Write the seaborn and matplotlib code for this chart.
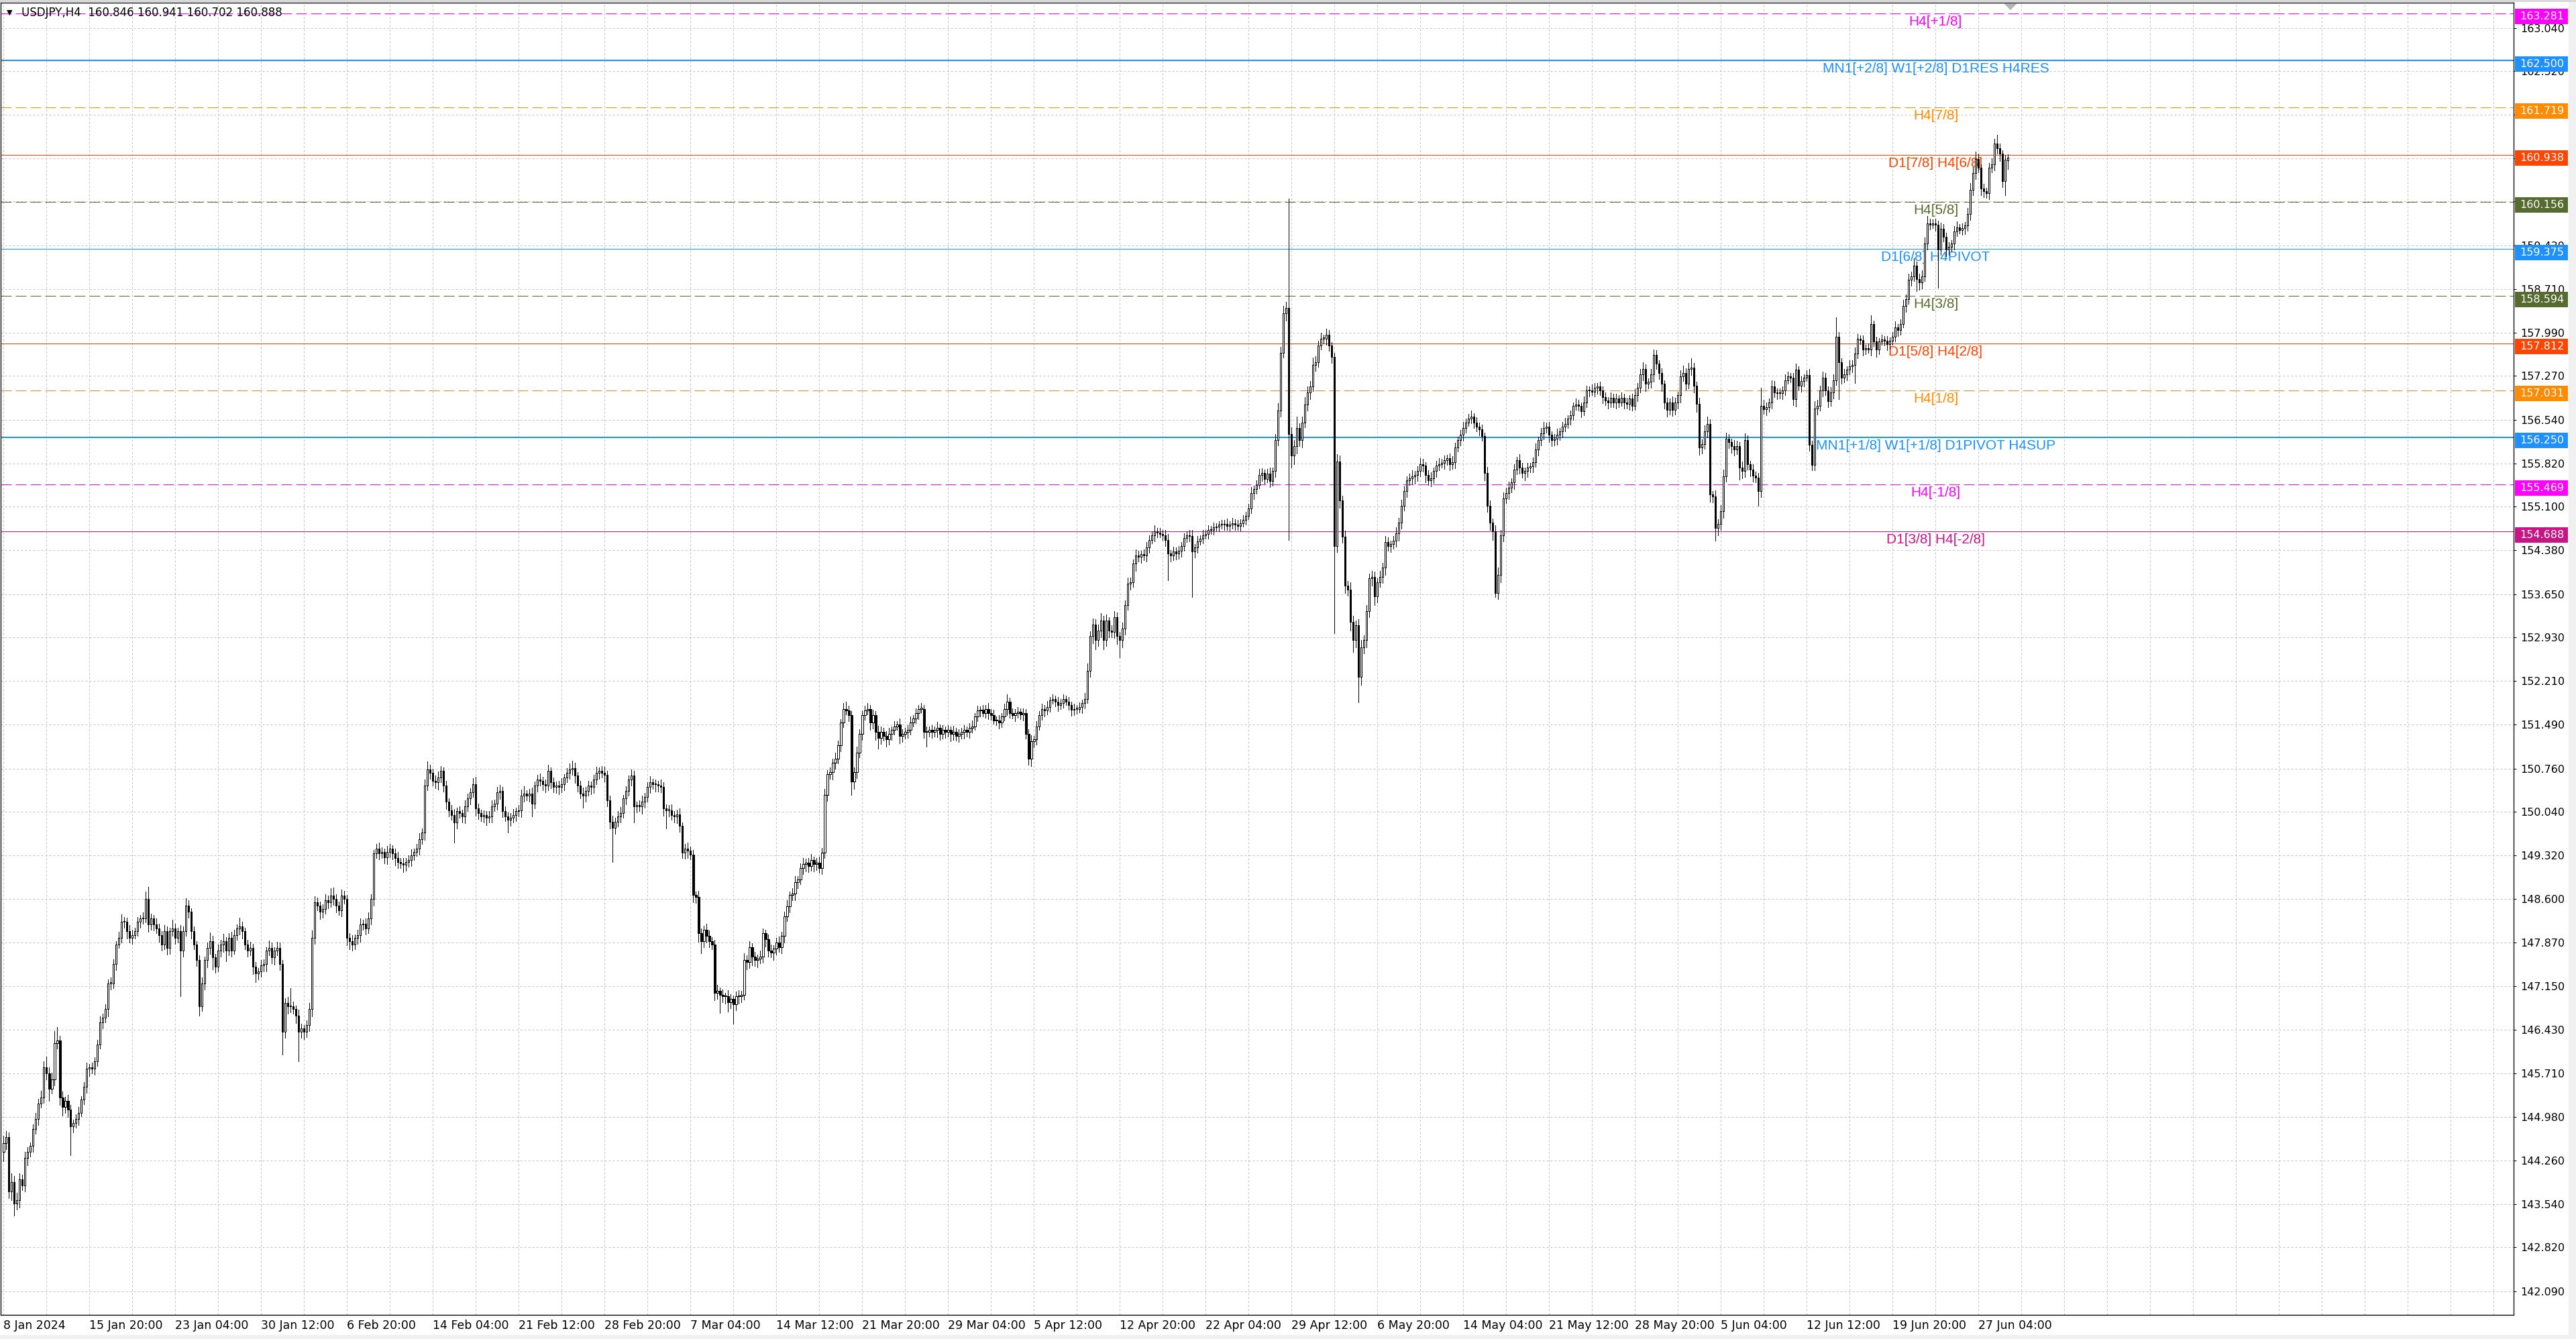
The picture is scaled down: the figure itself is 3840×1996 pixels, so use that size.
import numpy as np
import pandas as pd
import matplotlib
matplotlib.use("Agg")
import matplotlib.pyplot as plt
import matplotlib.transforms as mtransforms
from matplotlib.patches import Rectangle, Polygon
import seaborn as sns

# ---------------- data ----------------
SYMBOL = "USDJPY,H4"
LAST_OHLC = [160.846, 160.941, 160.702, 160.888]
FIRST_OPEN = 144.40

# H4 closes, one per bar, left to right
CLOSES = [
    144.55, 144.65, 143.75, 143.90, 143.55, 143.60, 143.95, 143.85, 144.30, 144.40,
    144.50, 144.78, 144.95, 145.20, 145.30, 145.80, 145.70, 145.45, 145.60, 146.20,
    146.25, 145.30, 145.15, 145.25, 145.10, 144.83, 144.88, 144.95, 145.05, 145.27,
    145.48, 145.78, 145.80, 145.78, 145.91, 146.18, 146.55, 146.63, 146.77, 147.20,
    147.20, 147.52, 147.84, 147.95, 148.22, 148.22, 148.06, 147.95, 148.00, 148.06,
    148.22, 148.27, 148.27, 148.60, 148.17, 148.27, 148.17, 148.11, 148.00, 147.84,
    148.06, 147.79, 148.06, 148.11, 147.95, 148.06, 147.74, 148.06, 148.49, 148.38,
    148.06, 147.84, 147.58, 146.82, 147.20, 147.58, 147.79, 147.90, 147.63, 147.47,
    147.74, 147.84, 147.90, 147.74, 147.95, 147.74, 148.00, 148.11, 148.14, 148.06,
    147.84, 147.74, 147.79, 147.47, 147.36, 147.39, 147.49, 147.52, 147.74, 147.79,
    147.63, 147.74, 147.79, 147.52, 146.39, 146.87, 146.82, 146.82, 146.77, 146.66,
    146.39, 146.45, 146.39, 146.50, 146.77, 147.95, 148.54, 148.49, 148.38, 148.43,
    148.57, 148.54, 148.65, 148.60, 148.49, 148.41, 148.65, 148.60, 147.95, 147.90,
    147.84, 147.95, 148.00, 148.17, 148.19, 148.11, 148.27, 148.60, 149.35, 149.43,
    149.35, 149.37, 149.29, 149.37, 149.43, 149.35, 149.27, 149.21, 149.19, 149.16,
    149.21, 149.24, 149.32, 149.37, 149.43, 149.59, 149.70, 150.48, 150.74, 150.69,
    150.56, 150.53, 150.61, 150.72, 150.48, 150.21, 150.07, 149.99, 149.86, 150.05,
    150.02, 149.97, 150.13, 150.26, 150.37, 150.50, 150.10, 150.02, 149.97, 149.99,
    149.94, 149.97, 150.13, 150.18, 150.37, 150.39, 150.05, 149.97, 149.91, 149.94,
    149.99, 150.05, 150.07, 150.31, 150.34, 150.31, 150.34, 150.18, 150.48, 150.58,
    150.56, 150.50, 150.48, 150.72, 150.53, 150.45, 150.48, 150.45, 150.50, 150.61,
    150.69, 150.74, 150.77, 150.64, 150.48, 150.34, 150.31, 150.39, 150.48, 150.45,
    150.58, 150.69, 150.72, 150.69, 150.66, 150.23, 149.88, 149.78, 149.88, 149.97,
    150.02, 150.26, 150.39, 150.58, 150.64, 150.13, 150.15, 150.13, 150.21, 150.29,
    150.45, 150.53, 150.50, 150.50, 150.48, 150.45, 150.10, 150.07, 150.07, 149.99,
    149.97, 150.00, 149.81, 149.36, 149.43, 149.40, 149.33, 148.66, 148.63, 148.03,
    147.90, 148.09, 147.99, 147.90, 147.84, 147.04, 147.07, 147.01, 146.98, 146.98,
    146.88, 146.94, 146.85, 146.98, 146.98, 147.01, 147.58, 147.55, 147.80, 147.64,
    147.58, 147.61, 147.64, 148.03, 147.93, 147.74, 147.71, 147.77, 147.87, 147.80,
    147.99, 148.31, 148.47, 148.66, 148.69, 148.88, 148.92, 149.11, 149.17, 149.20,
    149.14, 149.24, 149.17, 149.20, 149.11, 149.36, 150.32, 150.67, 150.70, 150.86,
    150.92, 151.14, 151.52, 151.75, 151.72, 151.65, 150.54, 150.70, 151.02, 151.33,
    151.65, 151.72, 151.75, 151.52, 151.65, 151.37, 151.27, 151.37, 151.30, 151.24,
    151.33, 151.40, 151.46, 151.49, 151.30, 151.33, 151.37, 151.40, 151.52, 151.59,
    151.68, 151.75, 151.75, 151.37, 151.37, 151.40, 151.37, 151.40, 151.43, 151.33,
    151.40, 151.37, 151.40, 151.33, 151.37, 151.30, 151.33, 151.37, 151.40, 151.37,
    151.43, 151.46, 151.62, 151.72, 151.73, 151.68, 151.75, 151.68, 151.65, 151.56,
    151.56, 151.52, 151.62, 151.75, 151.87, 151.68, 151.65, 151.68, 151.70, 151.66,
    151.68, 151.33, 150.92, 151.21, 151.24, 151.46, 151.65, 151.75, 151.72, 151.78,
    151.89, 151.91, 151.87, 151.81, 151.85, 151.91, 151.87, 151.81, 151.73, 151.75,
    151.75, 151.78, 151.84, 151.91, 152.38, 152.96, 153.15, 152.89, 153.05, 153.21,
    152.89, 153.21, 153.05, 153.02, 153.27, 152.96, 152.89, 153.08, 153.47, 153.82,
    153.85, 154.16, 154.29, 154.27, 154.31, 154.29, 154.42, 154.55, 154.63, 154.69,
    154.67, 154.65, 154.63, 154.55, 154.32, 154.29, 154.36, 154.32, 154.37, 154.45,
    154.58, 154.63, 154.61, 154.36, 154.42, 154.53, 154.57, 154.63, 154.65, 154.71,
    154.72, 154.76, 154.77, 154.80, 154.80, 154.82, 154.78, 154.80, 154.83, 154.80,
    154.78, 154.83, 154.88, 154.95, 155.07, 155.33, 155.39, 155.46, 155.63, 155.66,
    155.56, 155.65, 155.53, 155.69, 156.20, 156.70, 157.65, 158.31, 158.40, 156.30,
    155.95, 156.10, 156.40, 156.20, 156.50, 156.80, 157.00, 157.10, 157.45, 157.50,
    157.77, 157.89, 157.89, 157.95, 157.77, 157.59, 154.45, 155.85, 155.20, 154.60,
    153.79, 153.73, 153.19, 152.89, 153.13, 152.28, 152.77, 152.89, 153.37, 153.91,
    153.94, 153.61, 153.85, 153.94, 154.09, 154.51, 154.45, 154.48, 154.54, 154.66,
    154.84, 155.12, 155.36, 155.54, 155.57, 155.60, 155.63, 155.69, 155.81, 155.78,
    155.63, 155.54, 155.57, 155.69, 155.78, 155.81, 155.83, 155.87, 155.90, 155.81,
    155.84, 156.08, 156.20, 156.29, 156.41, 156.50, 156.56, 156.59, 156.50, 156.43,
    156.38, 156.27, 155.66, 155.12, 154.84, 154.69, 153.67, 153.97, 154.63, 155.24,
    155.33, 155.42, 155.51, 155.72, 155.87, 155.75, 155.66, 155.69, 155.75, 155.77,
    155.84, 156.05, 156.20, 156.32, 156.41, 156.43, 156.29, 156.20, 156.23, 156.29,
    156.35, 156.43, 156.47, 156.56, 156.62, 156.77, 156.79, 156.77, 156.68, 156.83,
    157.03, 157.03, 157.01, 157.07, 157.09, 157.03, 156.92, 156.86, 156.83, 156.91,
    156.83, 156.89, 156.83, 156.91, 156.83, 156.81, 156.89, 156.77, 156.95, 157.07,
    157.29, 157.38, 157.14, 157.17, 157.29, 157.62, 157.47, 157.32, 157.14, 156.83,
    156.71, 156.83, 156.71, 156.83, 156.95, 157.26, 157.32, 157.14, 157.38, 157.41,
    157.11, 156.81, 156.08, 156.14, 156.35, 156.47, 155.30, 155.27, 154.75, 154.81,
    155.03, 155.60, 156.23, 156.17, 156.11, 156.05, 156.11, 155.75, 155.69, 156.20,
    155.80, 155.72, 155.62, 155.58, 155.36, 156.77, 156.72, 156.75, 156.83, 157.10,
    157.00, 156.98, 156.98, 157.03, 157.20, 157.26, 157.24, 156.88, 157.37, 157.11,
    157.18, 157.24, 157.28, 156.13, 155.79, 156.73, 156.77, 157.03, 157.24, 157.03,
    156.85, 157.00, 157.20, 157.92, 157.50, 157.24, 157.30, 157.37, 157.43, 157.45,
    157.64, 157.88, 157.86, 157.71, 157.73, 157.71, 158.13, 157.84, 157.71, 157.84,
    157.87, 157.85, 157.80, 157.85, 157.92, 158.07, 158.03, 158.13, 158.43, 158.54,
    158.86, 158.92, 159.10, 158.88, 158.82, 158.92, 159.46, 159.80, 159.78, 159.80,
    159.78, 159.37, 159.71, 159.58, 159.37, 159.41, 159.46, 159.67, 159.73, 159.69,
    159.72, 159.76, 159.95, 160.35, 160.63, 160.87, 160.72, 160.38, 160.33, 160.30,
    160.72, 160.78, 161.12, 161.04, 160.95, 160.50, 160.85, 160.888,
]

# wick lengths in hundredths of a yen (above body / below body)
UP_WICK = [
    12, 10, 8, 15, 10, 12, 10, 8, 10, 8, 6, 8, 10, 8, 12, 10, 18, 10, 12, 20,
    22, 8, 10, 6, 10, 8, 6, 8, 10, 6, 8, 10, 6, 8, 6, 8, 10, 6, 8, 6,
    10, 8, 6, 10, 12, 8, 6, 10, 8, 6, 8, 6, 10, 12, 20, 8, 6, 10, 8, 6,
    10, 8, 6, 14, 8, 6, 10, 8, 12, 8, 6, 8, 6, 8, 10, 6, 8, 14, 8, 6,
    10, 8, 12, 6, 8, 10, 8, 6, 14, 8, 6, 8, 10, 6, 8, 6, 10, 8, 6, 12,
    8, 6, 10, 8, 6, 8, 10, 30, 8, 6, 10, 8, 6, 8, 10, 12, 10, 8, 6, 8,
    10, 8, 12, 14, 8, 6, 10, 8, 6, 8, 10, 6, 8, 10, 6, 8, 10, 8, 6, 8,
    10, 8, 6, 10, 8, 6, 8, 10, 6, 8, 6, 8, 10, 6, 8, 10, 6, 10, 14, 8,
    6, 8, 10, 8, 6, 8, 6, 8, 10, 6, 8, 6, 10, 8, 6, 10, 12, 8, 6, 8,
    6, 8, 10, 6, 8, 10, 6, 8, 6, 8, 10, 6, 8, 10, 12, 6, 8, 10, 6, 8,
    10, 6, 8, 10, 6, 8, 6, 8, 10, 6, 8, 10, 12, 8, 6, 8, 10, 6, 8, 6,
    8, 10, 6, 8, 10, 6, 8, 10, 6, 8, 10, 6, 8, 6, 10, 8, 6, 8, 10, 6,
    8, 10, 6, 8, 6, 10, 8, 6, 8, 10, 6, 8, 10, 6, 8, 10, 6, 8, 6, 10,
    8, 6, 10, 8, 6, 8, 10, 6, 8, 6, 10, 8, 6, 8, 10, 6, 12, 8, 10, 6,
    8, 6, 10, 8, 6, 8, 10, 6, 8, 10, 6, 8, 10, 6, 8, 10, 6, 8, 10, 6,
    8, 10, 6, 8, 10, 8, 10, 6, 8, 6, 10, 8, 6, 10, 12, 8, 6, 8, 10, 8,
    6, 8, 10, 6, 8, 6, 10, 8, 6, 8, 10, 6, 8, 6, 10, 8, 6, 8, 10, 6,
    8, 6, 10, 6, 8, 6, 8, 6, 10, 6, 8, 6, 8, 6, 10, 6, 8, 6, 8, 6,
    8, 10, 6, 8, 6, 8, 6, 10, 6, 8, 6, 8, 6, 8, 12, 6, 8, 6, 8, 6,
    8, 6, 8, 10, 6, 8, 6, 8, 6, 10, 6, 8, 6, 8, 6, 8, 6, 8, 6, 8,
    6, 8, 6, 10, 12, 8, 10, 8, 10, 12, 8, 10, 6, 8, 10, 8, 6, 10, 8, 10,
    8, 6, 10, 8, 6, 8, 10, 8, 6, 10, 6, 8, 6, 8, 10, 6, 8, 6, 8, 6,
    8, 6, 8, 10, 6, 8, 6, 8, 6, 8, 6, 8, 6, 6, 8, 6, 8, 6, 8, 6,
    8, 6, 8, 6, 8, 10, 6, 8, 10, 8, 6, 8, 10, 6, 10, 12, 10, 12, 10, 181,
    12, 10, 20, 8, 10, 12, 10, 8, 12, 10, 8, 10, 6, 10, 8, 6, 6, 12, 10, 8,
    10, 8, 12, 10, 8, 10, 12, 8, 10, 8, 10, 8, 6, 10, 8, 10, 8, 6, 8, 10,
    8, 10, 8, 6, 8, 10, 6, 8, 10, 8, 6, 8, 10, 6, 8, 10, 6, 8, 6, 8,
    10, 8, 6, 8, 10, 6, 8, 10, 6, 8, 6, 8, 6, 10, 8, 6, 10, 12, 8, 10,
    8, 10, 6, 8, 6, 10, 8, 6, 8, 6, 8, 10, 6, 8, 10, 6, 8, 6, 8, 10,
    6, 8, 10, 6, 8, 6, 10, 8, 6, 10, 8, 6, 10, 8, 6, 8, 6, 8, 6, 8,
    6, 8, 6, 8, 6, 8, 6, 8, 10, 8, 10, 12, 8, 6, 10, 9, 8, 6, 8, 6,
    8, 6, 10, 8, 6, 10, 12, 8, 10, 15, 8, 6, 10, 8, 10, 12, 8, 6, 10, 8,
    10, 12, 10, 8, 6, 10, 8, 6, 10, 12, 8, 6, 8, 6, 8, 30, 10, 8, 6, 10,
    8, 6, 8, 6, 10, 8, 6, 8, 10, 6, 8, 6, 8, 10, 6, 12, 10, 8, 10, 8,
    6, 8, 10, 32, 8, 6, 8, 6, 10, 8, 10, 8, 6, 8, 6, 8, 14, 6, 8, 6,
    8, 6, 8, 6, 8, 10, 6, 8, 10, 8, 10, 8, 12, 6, 8, 10, 10, 12, 8, 6,
    8, 6, 10, 8, 6, 8, 6, 8, 10, 6, 8, 6, 10, 12, 10, 12, 8, 6, 8, 6,
    8, 10, 8, 15, 8, 6, 8, 5,
]
LOW_WICK = [
    15, 10, 12, 15, 20, 10, 12, 8, 10, 12, 8, 10, 8, 10, 6, 8, 10, 20, 8, 10,
    8, 12, 15, 10, 12, 48, 10, 8, 10, 6, 8, 10, 12, 8, 10, 8, 6, 10, 8, 12,
    10, 8, 10, 6, 8, 10, 12, 8, 10, 6, 8, 10, 8, 6, 12, 8, 10, 8, 12, 10,
    8, 12, 10, 8, 10, 8, 76, 10, 8, 10, 12, 8, 10, 16, 8, 10, 12, 10, 20, 10,
    8, 10, 12, 18, 8, 10, 6, 8, 10, 12, 8, 10, 8, 12, 14, 10, 8, 10, 12, 8,
    10, 12, 8, 10, 37, 10, 12, 10, 8, 12, 48, 10, 12, 8, 10, 12, 10, 8, 12, 10,
    8, 10, 8, 10, 12, 8, 10, 8, 12, 14, 10, 8, 10, 12, 8, 10, 8, 10, 12, 8,
    10, 8, 10, 12, 8, 10, 12, 10, 8, 12, 10, 8, 10, 8, 6, 10, 8, 12, 8, 10,
    8, 10, 12, 8, 10, 12, 10, 8, 33, 10, 8, 10, 12, 8, 10, 8, 12, 10, 8, 10,
    12, 8, 10, 8, 10, 12, 10, 8, 21, 10, 8, 10, 8, 12, 10, 8, 10, 22, 8, 10,
    8, 10, 12, 8, 10, 8, 10, 12, 8, 10, 8, 10, 8, 12, 10, 8, 20, 10, 8, 12,
    10, 8, 10, 8, 12, 10, 12, 57, 10, 8, 10, 8, 10, 8, 10, 27, 10, 8, 12, 10,
    8, 10, 8, 12, 10, 8, 12, 30, 10, 8, 10, 12, 10, 8, 10, 12, 8, 12, 10, 14,
    20, 10, 12, 10, 8, 12, 10, 30, 10, 12, 15, 10, 32, 10, 12, 10, 8, 12, 10, 14,
    10, 12, 8, 10, 12, 10, 8, 12, 10, 8, 10, 12, 8, 10, 8, 12, 10, 8, 10, 12,
    10, 8, 12, 10, 8, 10, 8, 10, 8, 12, 10, 8, 10, 8, 6, 10, 22, 12, 10, 8,
    10, 8, 6, 12, 10, 14, 18, 10, 8, 12, 8, 10, 8, 6, 12, 10, 8, 10, 8, 6,
    8, 10, 6, 10, 25, 8, 10, 8, 12, 10, 8, 10, 8, 12, 10, 8, 10, 8, 12, 8,
    10, 8, 6, 8, 10, 6, 8, 10, 8, 6, 8, 10, 8, 6, 10, 8, 6, 10, 8, 8,
    10, 8, 10, 12, 10, 8, 6, 8, 10, 6, 8, 6, 8, 10, 6, 8, 6, 8, 10, 8,
    8, 6, 10, 8, 6, 10, 12, 15, 10, 12, 15, 10, 12, 8, 10, 14, 29, 12, 10, 8,
    10, 8, 12, 8, 10, 8, 10, 8, 6, 10, 8, 6, 8, 10, 44, 10, 8, 10, 8, 10,
    8, 6, 8, 76, 10, 8, 6, 8, 6, 8, 6, 8, 6, 8, 6, 8, 6, 8, 6, 8,
    6, 8, 6, 8, 6, 8, 10, 8, 6, 10, 8, 6, 10, 8, 10, 8, 10, 8, 12, 175,
    20, 15, 12, 10, 12, 8, 10, 12, 8, 10, 8, 6, 8, 10, 8, 10, 145, 10, 12, 10,
    12, 10, 14, 20, 12, 42, 14, 10, 12, 10, 12, 14, 10, 8, 10, 12, 8, 10, 8, 10,
    12, 10, 8, 10, 8, 10, 12, 10, 8, 10, 12, 8, 10, 8, 10, 8, 6, 10, 8, 10,
    8, 10, 6, 8, 10, 8, 6, 8, 10, 8, 10, 8, 12, 10, 12, 14, 7, 10, 12, 10,
    8, 10, 8, 12, 8, 10, 8, 12, 10, 8, 10, 8, 10, 8, 10, 8, 12, 10, 8, 10,
    8, 10, 8, 6, 10, 8, 6, 8, 10, 6, 8, 10, 6, 8, 10, 8, 10, 8, 10, 8,
    8, 10, 8, 6, 10, 8, 10, 8, 6, 10, 8, 10, 12, 8, 10, 12, 8, 10, 12, 10,
    12, 8, 10, 8, 10, 12, 8, 10, 8, 10, 12, 14, 12, 10, 8, 10, 12, 10, 21, 12,
    10, 12, 8, 10, 12, 10, 8, 20, 12, 10, 8, 12, 10, 8, 24, 10, 8, 10, 8, 10,
    8, 10, 8, 10, 8, 6, 8, 10, 12, 8, 10, 8, 6, 10, 9, 8, 10, 8, 10, 8,
    10, 8, 10, 8, 62, 10, 8, 10, 8, 10, 30, 8, 6, 10, 8, 6, 10, 8, 12, 8,
    6, 8, 10, 8, 6, 8, 10, 8, 6, 10, 8, 10, 8, 21, 12, 10, 8, 10, 8, 6,
    10, 64, 10, 8, 12, 10, 8, 10, 8, 6, 8, 10, 8, 10, 8, 10, 8, 12, 10, 8,
    10, 8, 10, 8, 12, 10, 23, 14,
]

DATE_LABELS = [
    "8 Jan 2024", "15 Jan 20:00", "23 Jan 04:00", "30 Jan 12:00", "6 Feb 20:00",
    "14 Feb 04:00", "21 Feb 12:00", "28 Feb 20:00", "7 Mar 04:00", "14 Mar 12:00",
    "21 Mar 20:00", "29 Mar 04:00", "5 Apr 12:00", "12 Apr 20:00", "22 Apr 04:00",
    "29 Apr 12:00", "6 May 20:00", "14 May 04:00", "21 May 12:00", "28 May 20:00",
    "5 Jun 04:00", "12 Jun 12:00", "19 Jun 20:00", "27 Jun 04:00",
]

PRICE_TICKS = [
    163.040, 162.320, 161.600, 160.880, 160.160, 159.430, 158.710, 157.990,
    157.270, 156.540, 155.820, 155.100, 154.380, 153.650, 152.930, 152.210,
    151.490, 150.760, 150.040, 149.320, 148.600, 147.870, 147.150, 146.430,
    145.710, 144.980, 144.260, 143.540, 142.820, 142.090,
]

LEVELS = [163.281, 162.500, 161.719, 160.938, 160.156, 159.375,
          158.594, 157.812, 157.031, 156.250, 155.469, 154.688]
LEVEL_NAMES = [
    "H4[+1/8]", "MN1[+2/8] W1[+2/8] D1RES H4RES", "H4[7/8]", "D1[7/8] H4[6/8]",
    "H4[5/8]", "D1[6/8] H4PIVOT", "H4[3/8]", "D1[5/8] H4[2/8]", "H4[1/8]",
    "MN1[+1/8] W1[+1/8] D1PIVOT H4SUP", "H4[-1/8]", "D1[3/8] H4[-2/8]",
]

# ---------------- styling ----------------
LEVEL_COLORS = ["#FF00FF", "#1E90FF", "#FF8C00", "#FF4500", "#556B2F", "#1E90FF",
                "#556B2F", "#FF4500", "#FF8C00", "#1E90FF", "#FF00FF", "#C71585"]
LEVEL_DASHED = [True, False, True, False, True, False, True, False, True, False, True, False]
LEVEL_THICK = [False, True, False, False, False, False, False, False, False, True, False, False]

W, H, DPI = 3840, 1996, 100
PX = 72.0 / DPI            # one pixel in points
BARS_PER_LABEL = 32
BARS_PER_GRID = 16
LABEL_BAR = 720            # where the level names are centred
GRID = "#c0c0c0"

sns.set_theme(style="white", rc={
    "axes.edgecolor": "black",
    "axes.facecolor": "white",
    "xtick.color": "black",
    "ytick.color": "black",
    "text.color": "black",
})
plt.rcParams["font.family"] = ["DejaVu Sans"]

assert len(CLOSES) == len(UP_WICK) == len(LOW_WICK), (len(CLOSES), len(UP_WICK), len(LOW_WICK))

df = pd.DataFrame({"close": CLOSES, "up": UP_WICK, "dn": LOW_WICK})
df["open"] = df["close"].shift(1).fillna(FIRST_OPEN)
df["top"] = df[["open", "close"]].max(axis=1)
df["bot"] = df[["open", "close"]].min(axis=1)
df["high"] = df["top"] + df["up"] / 100.0
df["low"] = df["bot"] - df["dn"] / 100.0
last = df.index[-1]
df.loc[last, ["open", "high", "low", "close"]] = LAST_OHLC
df.loc[last, "top"] = max(LAST_OHLC[0], LAST_OHLC[3])
df.loc[last, "bot"] = min(LAST_OHLC[0], LAST_OHLC[3])
df["x"] = np.arange(len(df))
df["rise"] = df["close"] >= df["open"]
df["body"] = (df["top"] - df["bot"]).clip(lower=0.012)

fig = plt.figure(figsize=(W / DPI, H / DPI), dpi=DPI, facecolor="white")
ax_l, ax_r, ax_t, ax_b = 1, 3747, 4, 1960
ax = fig.add_axes([ax_l / W, 1 - ax_b / H, (ax_r - ax_l) / W, (ax_b - ax_t) / H])

# window chrome
fig.patches.append(Rectangle((3829 / W, 0), 11 / W, 1, transform=fig.transFigure,
                             facecolor="#f0f0f0", edgecolor="none", zorder=0))
fig.patches.append(Rectangle((0, 0), 1, 6 / H, transform=fig.transFigure,
                             facecolor="#f0f0f0", edgecolor="none", zorder=0))
fig.patches.append(Rectangle((0, 1 - 3 / H), 1, 3 / H, transform=fig.transFigure,
                             facecolor="#d8d8d8", edgecolor="none", zorder=0))

# level lines
for lvl, col, dashed, thick in zip(LEVELS, LEVEL_COLORS, LEVEL_DASHED, LEVEL_THICK):
    ax.axhline(lvl, color=col, lw=(2.0 if thick else 1.0) * PX,
               ls=(0, (16, 6)) if dashed else "-", zorder=2.2)

# level names
for lvl, name, col in zip(LEVELS, LEVEL_NAMES, LEVEL_COLORS):
    ax.annotate(name, xy=(LABEL_BAR, lvl), xytext=(0, -3 * PX), textcoords="offset points",
                ha="center", va="top", color=col, fontsize=15,
                family=["Liberation Sans", "DejaVu Sans"], zorder=2.4)

# candles (crisp pixels, like the terminal)
ax.vlines(df["x"], df["low"], df["high"], color="black", lw=1.0 * PX, zorder=3,
          antialiased=False)
up = df[df["rise"]]
dn = df[~df["rise"]]
ax.bar(up["x"], up["body"], bottom=up["bot"], width=0.55, facecolor="white",
       edgecolor="black", lw=1.0 * PX, zorder=4, antialiased=False)
ax.bar(dn["x"], dn["body"], bottom=dn["bot"], width=0.55, facecolor="black",
       edgecolor="black", lw=1.0 * PX, zorder=4, antialiased=False)

# axes, ticks and grid
ax.set_xlim(-1.1, 935.4)
ax.set_ylim(141.70, 163.458)
ax.set_xticks(np.arange(len(DATE_LABELS)) * BARS_PER_LABEL)
ax.set_xticklabels(DATE_LABELS, ha="left", fontsize=12.5,
                   family=["Liberation Sans Narrow", "DejaVu Sans"])
ax.set_xticks(np.arange(BARS_PER_GRID, 936, BARS_PER_GRID), minor=True)
ax.set_yticks(PRICE_TICKS)
ax.set_yticklabels([f"{v:.3f}" for v in PRICE_TICKS], fontsize=11.5)
ax.yaxis.tick_right()
ax.tick_params(axis="y", which="major", direction="out", length=3 * PX * 1.4, width=PX,
               pad=4, right=True, left=False, labelright=True, labelleft=False)
ax.tick_params(axis="x", which="major", direction="out", length=4 * PX, width=PX, pad=2)
ax.tick_params(axis="x", which="minor", length=0)
ax.grid(axis="x", which="both", color=GRID, lw=PX, ls=(0, (3, 3)))
ax.grid(axis="y", which="major", color=GRID, lw=PX, ls=(0, (3, 3)))
ax.set_axisbelow(True)
for sp in ax.spines.values():
    sp.set_color("black")
    sp.set_linewidth(1.3 * PX)
ax.set_xlabel("")
ax.set_ylabel("")

# price boxes on the right scale (sit a few pixels below their line)
yx = mtransforms.blended_transform_factory(ax.transAxes, ax.transData)
axw = ax_r - ax_l
box_shift = 5 / 89.9
for lvl, col in zip(LEVELS, LEVEL_COLORS):
    ax.add_patch(Rectangle((1 + 2 / axw, lvl - box_shift - 0.128), 79 / axw, 0.256,
                           transform=yx, facecolor=col, edgecolor="none",
                           clip_on=False, zorder=10))
    ax.text(1 + 9 / axw, lvl - box_shift, f"{lvl:.3f}", transform=yx, color="white",
            fontsize=11.5, ha="left", va="center", clip_on=False, zorder=11)

# chart shift marker
xy = mtransforms.blended_transform_factory(ax.transData, ax.transAxes)
ax.add_patch(Polygon([[745.4, 0.9995], [750.4, 0.9995], [747.9, 0.9944]], closed=True,
                     transform=xy, facecolor="#b4b4b4", edgecolor="none", clip_on=False, zorder=9))

# header
fig.text(10 / W, 1 - 19 / H, "\u25bc", fontsize=8, va="center", ha="left")
fig.text(32 / W, 1 - 19 / H, f"{SYMBOL}  " + " ".join(f"{v:.3f}" for v in LAST_OHLC),
         fontsize=12, va="center", ha="left")

fig.savefig("out.png", dpi=DPI, facecolor="white")
